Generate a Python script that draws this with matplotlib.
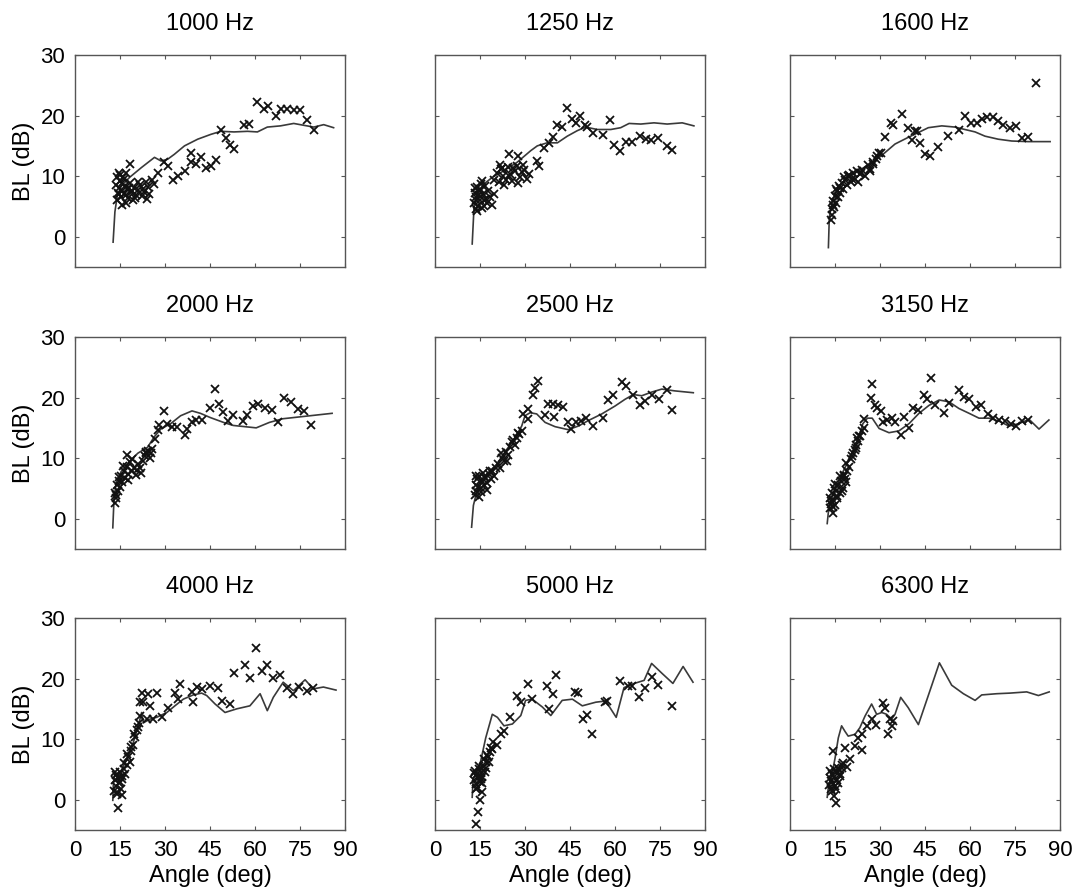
import matplotlib
matplotlib.use('Agg')
import matplotlib.pyplot as plt

# --- data (angle in deg, BL in dB) ---
titles = ['1000 Hz', '1250 Hz', '1600 Hz', '2000 Hz', '2500 Hz', '3150 Hz',
          '4000 Hz', '5000 Hz', '6300 Hz']
x_ticks = [0, 15, 30, 45, 60, 75, 90]
y_ticks = [0, 10, 20, 30]

# 1000 Hz
line_x_1000 = [12.7, 13.3, 14.1, 15.5, 18.2, 22.1, 26.5, 28.7, 30.9, 33.1, 36.5, 40.9, 45.3, 48.6,
               53.0, 57.5, 60.8, 64.1, 68.5, 72.9, 76.2, 79.6, 82.9, 86.2]
line_y_1000 = [-0.9, 4.1, 6.8, 8.4, 9.8, 11.4, 13.1, 12.5, 12.8, 13.6, 15.0, 16.1, 16.9, 17.4,
               17.3, 17.4, 17.3, 18.1, 18.3, 18.7, 18.4, 18.1, 18.5, 18.0]
pts_x_1000 = [13.8, 14.0, 14.2, 14.5, 14.7, 15.0, 15.2, 15.5, 15.8, 16.0, 16.3, 16.6, 17.0, 17.4,
              17.8, 18.3, 18.8, 19.3, 19.8, 20.4, 21.0, 21.6, 22.2, 22.9, 23.5, 24.2, 24.8, 25.5,
              26.2, 14.1, 14.6, 15.1, 15.6, 16.2, 17.0, 18.0, 19.0, 20.0, 21.0, 22.5, 24.0,
              17.1, 18.2, 27.6, 29.8, 30.9, 32.6, 34.3, 36.5, 38.7, 38.7, 40.3, 42.0, 43.6, 45.3,
              47.0, 48.6, 50.3, 51.7, 53.0, 56.4, 58.0, 60.8, 63.0, 64.4, 66.9, 68.5, 70.7, 72.9,
              75.0, 77.3, 79.5]
pts_y_1000 = [8.5, 9.8, 7.2, 10.6, 8.0, 9.2, 6.5, 8.8, 7.6, 9.9, 7.0, 8.3, 5.6, 7.8,
              6.4, 8.9, 7.3, 6.0, 8.1, 6.9, 7.7, 8.6, 6.7, 7.4, 9.1, 8.2, 7.0, 9.4,
              8.7, 6.1, 7.0, 10.2, 5.2, 9.5, 6.9, 8.0, 7.5, 6.4, 9.0, 7.9, 6.2,
              10.6, 12.0, 10.6, 12.3, 11.7, 9.3, 10.1, 10.9, 13.9, 12.3, 12.0, 13.1, 11.4, 11.7,
              12.7, 17.7, 16.3, 15.1, 14.4, 18.4, 18.6, 22.2, 21.1, 21.6, 20.0, 21.1, 21.1, 20.9,
              20.9, 19.3, 17.7]

# 1250 Hz
line_x_1250 = [12.4, 13.0, 14.1, 16.3, 19.1, 23.0, 27.4, 31.9, 34.1, 37.4, 40.8, 44.1, 47.4, 50.2,
               54.1, 58.6, 61.9, 64.7, 68.6, 73.0, 77.4, 82.4, 86.3]
line_y_1250 = [-1.2, 4.8, 7.0, 8.7, 9.8, 10.9, 12.3, 14.2, 15.0, 15.5, 15.5, 16.6, 17.5, 18.1,
               17.7, 17.7, 18.0, 18.7, 18.6, 18.8, 18.6, 18.8, 18.3]
pts_x_1250 = [13.0, 13.2, 13.5, 13.8, 14.0, 14.3, 14.6, 15.0, 15.3, 15.7, 16.0, 16.4, 16.8, 17.3,
              17.8, 18.3, 18.9, 19.5, 13.4, 14.1, 14.8, 15.5, 16.2, 17.0, 13.7, 15.1,
              19.8, 20.5, 21.2, 22.0, 22.8, 23.5, 24.3, 25.0, 25.8, 26.6, 27.4, 28.2, 29.0, 29.8,
              30.6, 31.4, 21.6, 23.0, 24.6, 26.0, 27.8, 29.4,
              24.7, 27.7, 22.4, 34.1, 34.6, 36.3, 38.0, 39.4, 40.8, 42.4, 44.1, 45.8, 46.9, 48.3,
              49.9, 50.8, 52.8, 56.1, 58.3, 59.7, 61.7, 63.6, 65.8, 68.3, 70.2, 71.9, 74.3, 77.2,
              79.1]
pts_y_1250 = [5.5, 7.2, 4.6, 6.5, 8.2, 5.1, 7.5, 6.0, 8.7, 4.8, 7.0, 6.1, 8.3, 5.5,
              7.6, 6.6, 5.3, 7.1, 8.0, 4.2, 6.9, 9.2, 5.0, 6.3, 6.0, 7.9,
              9.3, 10.5, 9.0, 11.2, 10.0, 9.4, 11.5, 10.3, 9.2, 10.8, 11.6, 9.8, 10.7, 11.0,
              9.6, 10.4, 11.8, 8.6, 10.1, 11.4, 8.9, 11.9,
              13.7, 13.4, 11.4, 12.5, 11.7, 14.7, 15.5, 16.5, 18.5, 18.1, 21.2, 19.4, 18.8, 19.9,
              18.5, 18.1, 17.2, 16.8, 19.2, 15.2, 14.1, 15.6, 15.7, 16.6, 16.2, 16.0, 16.3, 15.0,
              14.3]

# 1600 Hz
line_x_1600 = [12.8, 13.1, 14.1, 16.1, 19.4, 23.9, 28.3, 31.7, 35.0, 39.4, 42.8, 46.1, 50.6, 55.0,
               58.3, 61.7, 65.0, 69.4, 73.9, 79.4, 86.7]
line_y_1600 = [-1.8, 3.2, 5.9, 8.1, 9.8, 11.2, 12.5, 13.9, 15.3, 16.4, 17.2, 18.0, 18.3, 18.1,
               17.7, 17.3, 16.6, 16.1, 15.8, 15.7, 15.7]
pts_x_1600 = [13.6, 13.9, 14.1, 14.4, 14.7, 15.0, 15.3, 15.6, 16.0, 16.4, 16.8, 17.3, 17.8, 18.4,
              19.0, 19.6, 20.3, 21.0, 21.7, 22.5, 23.3, 24.1, 25.0, 25.9, 26.8, 27.8, 28.8, 29.8,
              14.2, 15.4, 16.6, 18.0, 19.4, 20.8, 22.2, 23.6,
              82.0, 37.2, 34.4, 33.7, 31.7, 30.3, 28.9, 27.8, 26.7, 39.4, 41.7, 42.2, 40.8, 43.3,
              45.0, 46.7, 49.2, 52.6, 56.4, 58.3, 60.3, 62.2, 63.9, 65.6, 67.8, 69.2, 71.1, 73.3,
              75.2, 77.4, 79.4]
pts_y_1600 = [2.8, 4.5, 3.6, 5.9, 4.9, 6.8, 5.6, 7.5, 6.6, 8.3, 7.2, 8.9, 7.9, 9.4,
              8.6, 10.2, 9.1, 10.6, 9.6, 9.0, 10.4, 11.0, 10.0, 11.8, 11.2, 12.4, 12.9, 13.8,
              5.2, 7.8, 8.1, 9.9, 10.0, 9.5, 10.9, 10.6,
              25.3, 20.3, 18.5, 18.7, 16.5, 13.9, 13.4, 12.0, 10.9, 17.9, 17.4, 17.5, 15.9, 15.4,
              13.6, 13.4, 14.8, 16.6, 17.7, 19.9, 18.8, 18.7, 19.4, 19.7, 19.7, 19.1, 18.5, 17.9,
              18.3, 16.3, 16.4]

# 2000 Hz
line_x_2000 = [12.6, 13.0, 13.7, 15.4, 17.6, 20.9, 24.2, 26.4, 28.6, 31.9, 35.2, 39.0, 41.8, 45.1,
               49.5, 52.7, 60.4, 64.8, 69.2, 74.7, 80.2, 85.7]
line_y_2000 = [-1.5, 3.2, 5.9, 7.8, 9.1, 10.8, 11.8, 13.5, 14.8, 15.7, 17.0, 17.8, 17.4, 16.7,
               15.9, 15.4, 15.0, 15.9, 16.5, 16.8, 17.1, 17.4]
pts_x_2000 = [13.2, 13.4, 13.7, 14.0, 14.3, 14.6, 15.0, 15.4, 15.8, 16.2, 16.7, 17.2, 17.7, 18.3,
              18.9, 19.5, 20.2, 20.9, 21.7, 22.5, 23.4, 24.2, 25.0, 13.6, 14.8, 16.0, 17.5, 19.0,
              20.5, 22.0, 23.8, 25.6,
              17.4, 23.6, 25.3, 26.7, 27.5, 28.0, 29.7, 30.8, 32.4, 34.1, 36.5, 37.4, 39.0, 40.4,
              42.3, 45.0, 46.7, 48.0, 49.2, 51.1, 52.5, 56.0, 57.4, 59.3, 61.0, 63.2, 65.7, 67.6,
              69.8, 72.0, 74.2, 76.4, 78.6]
pts_y_2000 = [2.6, 4.2, 3.4, 5.5, 4.6, 6.3, 5.2, 7.1, 6.0, 7.9, 6.8, 8.6, 7.4, 9.3,
              7.9, 8.4, 7.2, 9.0, 8.3, 9.6, 10.4, 11.2, 10.1, 3.9, 6.9, 8.7, 6.4, 9.8,
              8.1, 7.6, 10.9, 11.5,
              10.5, 11.0, 10.8, 13.2, 14.6, 15.5, 17.8, 15.7, 15.1, 15.2, 13.8, 14.8, 15.9, 16.3,
              16.3, 18.3, 21.4, 18.9, 17.7, 16.2, 17.2, 16.2, 17.2, 18.6, 18.9, 18.3, 17.9, 15.9,
              19.9, 19.3, 18.1, 17.8, 15.4]

# 2500 Hz
line_x_2500 = [12.2, 12.8, 13.9, 15.6, 17.8, 20.6, 23.3, 26.7, 28.9, 30.0, 31.7, 33.9, 36.7, 40.0,
               44.4, 47.8, 51.1, 55.6, 60.0, 63.3, 66.1, 68.9, 72.2, 75.6, 80.0, 86.1]
line_y_2500 = [-1.4, 2.2, 4.4, 6.0, 7.4, 9.0, 11.0, 13.4, 15.3, 17.0, 17.5, 17.3, 15.9, 15.2,
               14.7, 15.3, 16.2, 17.3, 18.6, 19.7, 20.5, 20.3, 20.9, 21.4, 21.1, 20.8]
pts_x_2500 = [13.2, 13.5, 13.8, 14.1, 14.4, 14.8, 15.2, 15.6, 16.0, 16.4, 16.9, 17.4, 17.9, 18.5,
              19.1, 19.7, 13.6, 14.5, 15.4, 16.3, 17.2, 18.2,
              20.3, 21.0, 21.6, 22.3, 23.0, 23.7, 24.4, 25.1, 25.8, 26.5, 27.2, 28.0, 22.0, 24.0,
              26.0,
              34.4, 33.3, 32.6, 30.9, 29.4, 30.9, 28.9, 27.8, 37.8, 39.4, 41.1, 42.8, 36.7, 39.8,
              44.2, 45.3, 46.9, 48.6, 50.2, 52.8, 56.1, 57.8, 59.4, 62.2, 63.6, 66.1, 68.3, 70.0,
              72.2, 74.7, 77.2, 79.1]
pts_y_2500 = [3.9, 5.6, 4.6, 6.5, 5.2, 7.0, 4.4, 6.2, 7.6, 5.5, 6.8, 5.9, 7.3, 6.6,
              7.9, 7.1, 7.0, 3.6, 5.0, 6.9, 4.8, 7.8,
              8.3, 9.1, 8.4, 10.0, 9.6, 11.0, 10.5, 11.8, 12.6, 12.1, 13.4, 14.0, 10.9, 9.5,
              13.0,
              22.7, 21.6, 20.4, 18.1, 17.3, 16.4, 14.5, 14.2, 18.9, 18.9, 18.7, 18.5, 17.1, 16.8,
              15.9, 14.8, 15.9, 16.2, 16.7, 15.3, 16.7, 19.6, 20.5, 22.5, 21.9, 20.5, 18.7, 19.5,
              20.5, 19.8, 21.3, 18.0]

# 3150 Hz
line_x_3150 = [12.4, 13.0, 14.7, 16.9, 19.1, 21.3, 23.0, 24.3, 25.8, 27.4, 29.7, 33.0, 36.3, 39.7,
               43.0, 46.3, 49.7, 53.0, 56.3, 59.7, 63.0, 66.3, 69.7, 73.0, 76.3, 79.7, 83.0, 86.3]
line_y_3150 = [-0.8, 2.1, 4.3, 7.0, 9.2, 11.6, 13.6, 15.7, 16.6, 16.6, 14.9, 14.2, 14.5, 15.7,
               17.4, 18.7, 19.6, 19.3, 18.2, 17.4, 16.6, 16.6, 16.1, 15.3, 15.7, 16.4, 14.8, 16.3]
pts_x_3150 = [13.2, 13.4, 13.7, 14.0, 14.3, 14.6, 14.9, 15.3, 15.7, 16.1, 16.5, 17.0, 17.5, 18.0,
              18.5, 19.0, 19.6, 13.5, 14.2, 15.0, 15.8, 16.6, 17.4, 18.3,
              20.2, 20.9, 21.5, 22.1, 22.7, 23.3, 23.9, 24.5,
              14.3, 18.6, 18.0, 20.8, 21.9, 22.4, 23.0, 24.7, 26.9, 27.4, 28.3, 29.1, 30.2, 31.0,
              32.4, 33.9, 35.0, 36.9, 38.0, 39.7, 41.0, 42.8, 44.7, 45.8, 46.9, 48.3, 51.3, 53.0,
              56.3, 58.0, 59.7, 61.9, 63.6, 66.1, 67.7, 69.7, 71.7, 73.6, 75.2, 77.4, 79.4]
pts_y_3150 = [1.8, 3.4, 2.5, 4.3, 3.1, 5.0, 2.2, 4.6, 3.7, 5.6, 4.2, 6.3, 5.1, 7.2,
              6.0, 7.8, 8.5, 2.9, 1.9, 5.8, 3.5, 7.0, 4.6, 6.6,
              9.8, 10.8, 11.4, 12.2, 12.9, 13.7, 14.4, 15.0,
              1.0, 9.2, 7.0, 10.3, 11.6, 13.3, 13.7, 16.4, 20.0, 22.2, 18.7, 18.2, 17.8, 16.0,
              16.3, 16.6, 16.0, 13.8, 16.8, 14.9, 18.2, 17.9, 20.4, 19.8, 23.3, 18.7, 17.5, 19.1,
              21.2, 20.1, 19.7, 18.5, 18.7, 17.3, 16.7, 16.3, 16.2, 15.7, 15.3, 16.2, 16.3]

# 4000 Hz
line_x_4000 = [12.6, 12.8, 13.3, 14.4, 16.1, 17.8, 19.4, 21.1, 22.2, 22.8, 25.0, 27.2, 30.6, 33.3,
               36.1, 39.4, 42.2, 43.9, 46.7, 50.0, 53.9, 58.3, 61.7, 64.1, 66.1, 69.4, 72.8, 76.7,
               79.4, 82.8, 87.0]
line_y_4000 = [-0.1, 2.8, 4.4, 3.9, 5.5, 7.2, 9.4, 12.2, 14.4, 12.7, 13.3, 13.6, 14.4, 15.5,
               16.6, 17.3, 17.6, 17.2, 15.8, 14.4, 15.0, 15.5, 17.5, 14.7, 16.9, 19.4, 18.0, 19.8,
               18.3, 18.6, 18.1]
pts_x_4000 = [13.0, 13.2, 13.5, 13.8, 14.1, 14.4, 14.7, 15.0, 15.4, 15.8, 16.2, 16.7, 17.2, 17.7,
              18.2, 18.8, 19.4, 20.0, 20.6, 21.2, 13.4, 14.0, 14.9, 15.6, 16.4, 17.4, 18.5, 19.7,
              20.9, 21.8,
              14.4, 15.6, 22.2, 24.4, 27.2, 21.7, 22.8, 25.0, 23.9, 26.1, 28.9, 31.1, 33.3, 34.2,
              35.0, 38.9, 39.4, 40.6, 42.2, 45.0, 47.5, 48.9, 51.7, 53.0, 56.7, 58.3, 60.3, 62.2,
              63.9, 66.1, 68.3, 70.6, 72.8, 74.7, 77.4, 79.4]
pts_y_4000 = [1.5, 3.2, 2.3, 4.1, 0.9, 3.6, 2.7, 4.5, 1.8, 3.9, 5.0, 4.3, 5.8, 7.0,
              6.2, 8.0, 9.1, 10.3, 11.5, 12.6, 4.6, 1.2, 2.9, 3.4, 6.0, 7.6, 8.7, 10.9,
              12.0, 13.8,
              -1.4, 0.8, 17.7, 17.5, 17.7, 16.1, 16.1, 15.5, 13.3, 13.3, 13.6, 15.2, 17.7, 16.7,
              19.1, 17.8, 16.1, 18.6, 18.2, 18.7, 18.4, 16.3, 15.8, 20.9, 22.3, 20.1, 25.0, 21.3,
              22.3, 20.1, 20.6, 18.4, 17.5, 18.6, 18.0, 18.4]

# 5000 Hz
line_x_5000 = [12.4, 12.7, 13.6, 15.2, 16.9, 19.1, 20.8, 23.0, 25.8, 28.6, 30.2, 32.4, 35.8, 38.6,
               42.4, 45.8, 49.1, 53.6, 56.9, 60.4, 63.0, 65.8, 69.7, 72.2, 75.8, 79.3, 82.7, 86.0]
line_y_5000 = [0.4, 3.5, 4.1, 6.3, 10.2, 14.1, 13.6, 12.2, 12.5, 13.9, 16.4, 16.6, 15.3, 13.9,
               16.4, 16.6, 15.5, 16.1, 16.3, 13.6, 18.5, 19.1, 19.7, 22.5, 20.8, 19.2, 22.0, 19.4]
pts_x_5000 = [13.0, 13.3, 13.6, 13.9, 14.2, 14.5, 14.9, 15.3, 15.7, 16.1, 16.6, 17.1, 17.6, 18.2,
              18.8, 19.4, 13.5, 14.1, 14.7, 15.5, 16.3, 17.3,
              13.8, 14.4, 14.9, 15.6, 13.0, 15.2, 16.9, 18.0, 19.1, 20.8, 21.9, 23.0, 24.9, 27.4,
              28.6, 31.1, 32.2, 37.4, 38.0, 39.3, 40.4, 46.7, 47.8, 49.3, 50.8, 52.4, 56.7, 57.4,
              61.6, 64.4, 65.8, 68.0, 70.0, 72.2, 74.4, 78.9]
pts_y_5000 = [3.2, 4.8, 2.6, 4.2, 3.6, 5.0, 3.0, 4.4, 3.8, 5.4, 4.6, 6.2, 7.0, 7.8,
              8.6, 9.6, 1.8, 2.0, 5.6, 2.7, 6.8, 7.4,
              -4.0, -2.1, -0.1, 1.3, 4.4, 3.5, 5.2, 6.3, 8.3, 9.1, 10.8, 11.3, 13.7, 17.2,
              16.1, 19.1, 16.6, 18.7, 15.0, 17.5, 20.6, 17.8, 17.6, 13.3, 14.0, 10.8, 16.1, 16.3,
              19.6, 18.7, 18.7, 16.9, 18.5, 20.3, 18.9, 15.5]

# 6300 Hz
line_x_6300 = [12.4, 12.8, 13.9, 15.0, 16.1, 17.2, 18.3, 19.4, 21.7, 23.3, 25.0, 27.2, 28.9, 30.6,
               32.2, 33.9, 35.0, 36.9, 39.4, 42.8, 46.1, 49.8, 53.9, 57.8, 61.7, 63.9, 68.9, 73.3,
               78.9, 82.8, 86.4]
line_y_6300 = [0.4, 2.1, 4.0, 6.8, 10.2, 12.2, 11.3, 10.5, 10.8, 11.9, 13.8, 15.8, 14.1, 14.4,
               14.1, 13.3, 14.1, 16.9, 15.2, 12.4, 17.2, 22.6, 18.9, 17.5, 16.4, 17.3, 17.5, 17.6,
               17.8, 17.2, 17.8]
pts_x_6300 = [13.0, 13.2, 13.5, 13.8, 14.1, 14.4, 14.7, 15.0, 15.4, 15.8, 16.2, 16.7, 17.2, 17.8,
              13.4, 14.0, 14.6, 15.3, 16.0, 16.8,
              15.3, 14.7, 14.4, 18.3, 16.1, 17.2, 18.9, 20.0, 21.7, 23.9, 22.8, 23.9, 25.6, 27.2,
              28.7, 30.9, 31.7, 33.3, 33.9, 32.8, 34.4]
pts_y_6300 = [2.4, 3.6, 1.8, 3.1, 4.2, 2.6, 3.8, 2.2, 4.6, 3.3, 4.9, 3.9, 5.3, 6.0,
              4.8, 1.4, 5.1, 1.7, 2.8, 4.3,
              -0.6, 0.6, 8.0, 8.5, 5.2, 5.7, 5.4, 6.8, 8.8, 8.2, 10.2, 10.8, 12.2, 13.3,
              12.4, 15.9, 15.2, 13.3, 12.2, 10.8, 13.0]

panels = [
    (line_x_1000, line_y_1000, pts_x_1000, pts_y_1000),
    (line_x_1250, line_y_1250, pts_x_1250, pts_y_1250),
    (line_x_1600, line_y_1600, pts_x_1600, pts_y_1600),
    (line_x_2000, line_y_2000, pts_x_2000, pts_y_2000),
    (line_x_2500, line_y_2500, pts_x_2500, pts_y_2500),
    (line_x_3150, line_y_3150, pts_x_3150, pts_y_3150),
    (line_x_4000, line_y_4000, pts_x_4000, pts_y_4000),
    (line_x_5000, line_y_5000, pts_x_5000, pts_y_5000),
    (line_x_6300, line_y_6300, pts_x_6300, pts_y_6300),
]

plt.rcParams['font.family'] = ['Liberation Sans', 'DejaVu Sans']

fig = plt.figure(figsize=(10.76, 8.94), dpi=100, facecolor='white')

W, H = 1076.0, 894.0
col_left = [75, 435, 790]
row_top = [55, 337, 618]
ax_w, ax_h = 270, 212

for i, (lx, ly, px, py) in enumerate(panels):
    r, c = divmod(i, 3)
    ax = fig.add_axes([col_left[c] / W, 1 - (row_top[r] + ax_h) / H, ax_w / W, ax_h / H])
    ax.plot(lx, ly, color='#3a3a3a', linewidth=1.2)
    ax.plot(px, py, linestyle='none', marker='x', color='#111111',
            markersize=6, markeredgewidth=1.3)
    ax.set_xlim(0, 90)
    ax.set_ylim(-5, 30)
    ax.set_xticks(x_ticks)
    ax.set_yticks(y_ticks)
    ax.tick_params(direction='in', length=3, width=0.8, top=True, right=True,
                   labelsize=16, colors='#555555', labelcolor='black', pad=7)
    for s in ax.spines.values():
        s.set_color('#555555')
        s.set_linewidth(1.0)
    ax.set_title(titles[i], fontsize=17, pad=18)
    if c == 0:
        ax.set_ylabel('BL (dB)', fontsize=17, labelpad=4)
    else:
        ax.set_yticklabels([])
    if r == 2:
        ax.set_xlabel('Angle (deg)', fontsize=17, labelpad=3)
    else:
        ax.set_xticklabels([])

fig.savefig('out.png', dpi=100, facecolor='white')
